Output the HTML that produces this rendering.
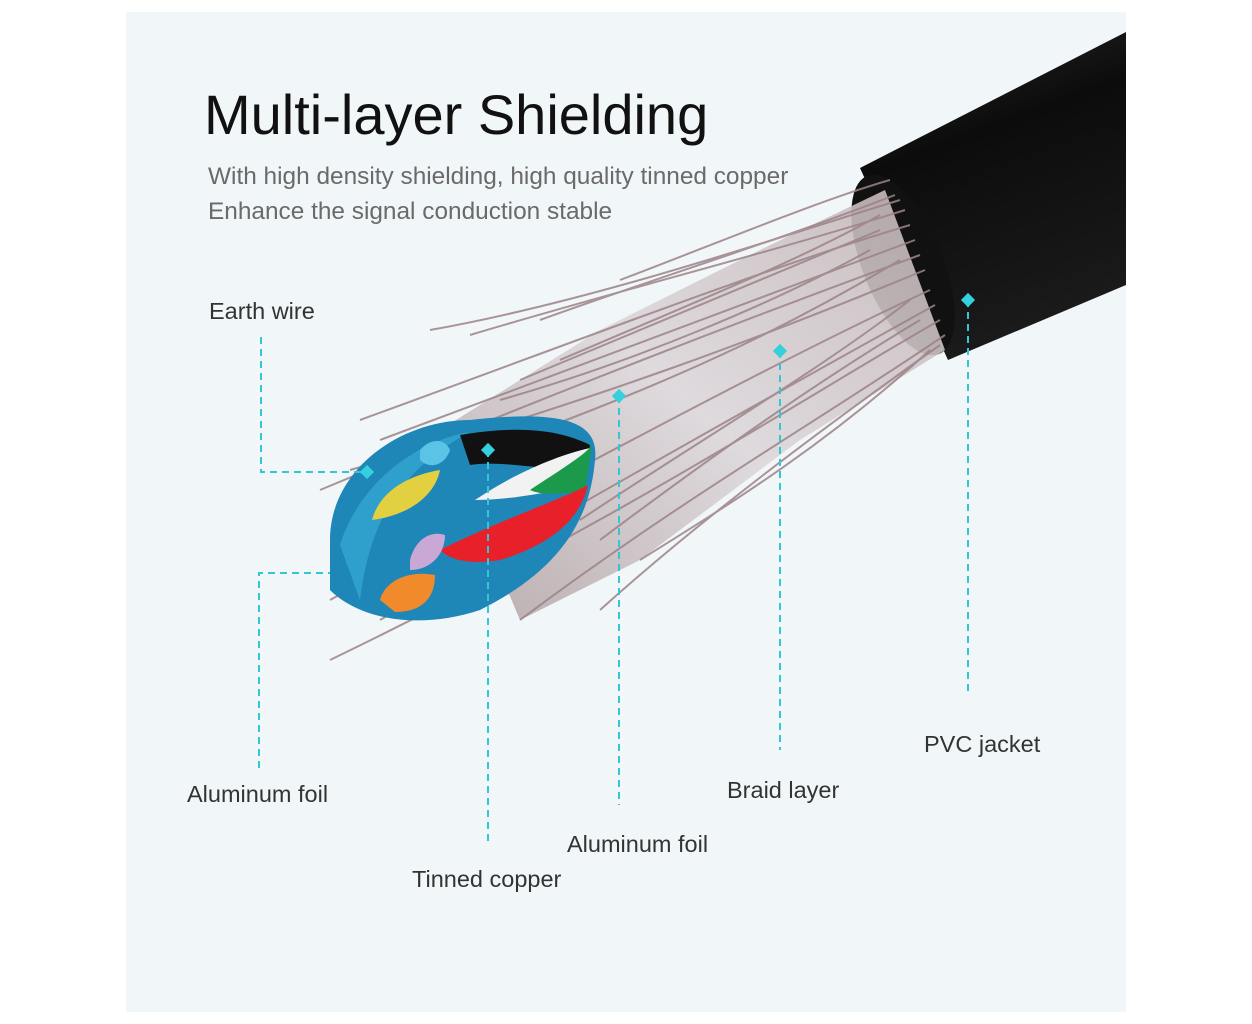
<!DOCTYPE html>
<html><head><meta charset="utf-8"><style>
html,body{margin:0;padding:0;background:#fff;}
body{width:1252px;height:1024px;position:relative;overflow:hidden;font-family:"Liberation Sans",sans-serif;}
.panel{position:absolute;left:126px;top:12px;width:1000px;height:1000px;background:#f1f6f9;}
.t{position:absolute;white-space:nowrap;}
.l{font-size:23.5px;color:#333;}
</style></head><body>
<div class="panel"></div>
<svg width="1252" height="1024" style="position:absolute;left:0;top:0">
<defs>
<linearGradient id="jk" x1="0" y1="0" x2="0.3" y2="1"><stop offset="0" stop-color="#2a2a2a"/><stop offset="0.4" stop-color="#0c0c0c"/><stop offset="1" stop-color="#1a1a1a"/></linearGradient>
<linearGradient id="br" x1="1" y1="0" x2="0" y2="1"><stop offset="0" stop-color="#c4b6b8"/><stop offset="0.5" stop-color="#dcd7da"/><stop offset="1" stop-color="#b3a4a6"/></linearGradient>
</defs>
<polygon points="860,168 1126,32 1126,285 948,360" fill="url(#jk)"/>
<ellipse cx="903" cy="265" rx="40" ry="96" transform="rotate(-22 903 265)" fill="#111"/>
<polygon points="885,190 945,350 800,440 640,560 520,620 440,430 600,330 760,250" fill="url(#br)" opacity="0.9"/>
<g stroke="#9c8387" stroke-width="2" fill="none" opacity="0.85">
<path d="M900,200 C800,230 600,300 430,330"/>
<path d="M905,210 C780,250 620,290 470,335"/>
<path d="M910,225 C760,270 580,340 360,420"/>
<path d="M915,240 C780,290 620,350 380,440"/>
<path d="M920,255 C770,310 560,390 320,490"/>
<path d="M925,270 C780,330 600,400 350,470"/>
<path d="M930,290 C800,350 650,430 330,600"/>
<path d="M935,305 C800,380 620,480 380,620"/>
<path d="M940,320 C800,400 620,520 330,660"/>
<path d="M945,335 C820,420 680,500 520,620"/>
<path d="M940,345 C820,430 700,520 600,610"/>
<path d="M930,350 C820,450 720,510 640,560"/>
<path d="M880,215 C800,260 700,300 560,360"/>
<path d="M870,250 C780,300 640,360 500,400"/>
<path d="M900,260 C800,320 700,370 540,430"/>
<path d="M910,300 C820,370 700,440 580,520"/>
<path d="M890,180 C820,200 700,250 620,280"/>
<path d="M880,230 C760,280 640,330 520,380"/>
<path d="M920,320 C820,380 720,450 600,540"/>
<path d="M895,195 C780,240 650,280 540,320"/>
</g>
<path d="M330,540 C330,470 400,420 470,420 C560,410 600,420 595,460 C590,520 560,570 480,610 C420,630 360,620 330,590 Z" fill="#1f86b8"/>
<path d="M340,545 C360,480 420,440 470,432 C400,470 370,520 360,600 Z" fill="#3ab2d8" opacity="0.6"/>
<path d="M460,435 C520,425 560,430 590,445 L585,470 C540,470 500,460 470,465 Z" fill="#111"/>
<path d="M475,500 C520,470 560,455 590,448 L580,485 C540,495 500,500 478,500 Z" fill="#f2f2f2"/>
<path d="M530,490 C560,470 585,455 592,445 L585,490 C560,495 540,495 530,490 Z" fill="#1a9a4a"/>
<path d="M440,550 C500,520 560,500 588,485 C580,520 550,545 500,560 C470,565 450,560 440,550 Z" fill="#e8202a"/>
<path d="M372,520 C380,490 410,475 440,470 C435,495 410,515 372,520 Z" fill="#e2d040"/>
<path d="M410,560 C415,540 430,530 445,535 C445,555 430,570 410,570 Z" fill="#c9a8d6"/>
<path d="M380,600 C385,580 410,570 435,575 C435,600 420,612 395,612 Z" fill="#f08a2a"/>
<path d="M420,450 C430,438 445,438 450,450 C445,465 430,470 420,460 Z" fill="#5ac3e6"/>
<g stroke="#35c6d6" stroke-width="2" stroke-dasharray="7,5" fill="none">
<polyline points="261,337 261,472 367,472"/>
<polyline points="259,768 259,573 330,573"/>
<line x1="488" y1="450" x2="488" y2="845"/>
<line x1="619" y1="396" x2="619" y2="805"/>
<line x1="780" y1="351" x2="780" y2="750"/>
<line x1="968" y1="300" x2="968" y2="692"/>
</g>
<g fill="#35d0de">
<rect x="362" y="467" width="10" height="10" transform="rotate(45 367 472)"/>
<rect x="483" y="445" width="10" height="10" transform="rotate(45 488 450)"/>
<rect x="614" y="391" width="10" height="10" transform="rotate(45 619 396)"/>
<rect x="775" y="346" width="10" height="10" transform="rotate(45 780 351)"/>
<rect x="963" y="295" width="10" height="10" transform="rotate(45 968 300)"/>
</g>
</svg>
<div class="t" style="left:204px;top:82px;font-size:56px;color:#111;">Multi-layer Shielding</div>
<div class="t" style="left:208px;top:159px;font-size:24.4px;color:#6a6a6a;line-height:35px;">With high density shielding, high quality tinned copper<br>Enhance the signal conduction stable</div>
<div class="t l" style="left:209px;top:298px;">Earth wire</div>
<div class="t l" style="left:187px;top:781px;">Aluminum foil</div>
<div class="t l" style="left:412px;top:866px;">Tinned copper</div>
<div class="t l" style="left:567px;top:831px;">Aluminum foil</div>
<div class="t l" style="left:727px;top:777px;">Braid layer</div>
<div class="t l" style="left:924px;top:731px;">PVC jacket</div>
</body></html>
